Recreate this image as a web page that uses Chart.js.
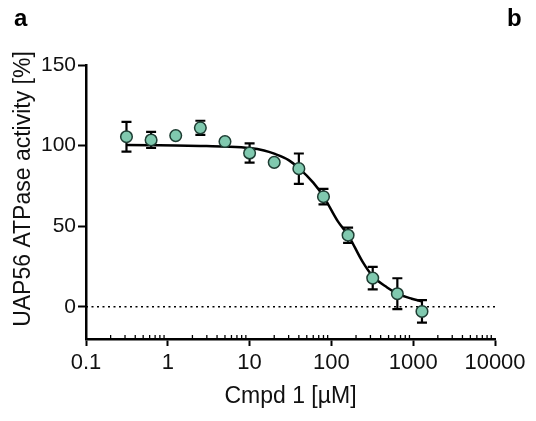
<!DOCTYPE html>
<html>
<head>
<meta charset="utf-8">
<script src="https://cdn.jsdelivr.net/npm/chart.js@4.4.1/dist/chart.umd.min.js"></script>
<style>
  html, body { margin: 0; padding: 0; background: #fff; }
  #wrap { position: relative; width: 536px; height: 421px; }
  .panel { position: absolute; top: 4px; font: bold 24px "Liberation Sans", Arial, sans-serif; color: #000; }
</style>
</head>
<body>
<div id="wrap">
  <canvas id="chart" width="536" height="421"></canvas>
  <div class="panel" style="left:14px;">a</div>
  <div class="panel" style="left:507px;">b</div>
</div>
<script>
  // measured points (concentration in µM, activity in %, error)
  const conc = [0.3125, 0.625, 1.25, 2.5, 5, 10, 20, 40, 80, 160, 320, 640, 1280];
  const activity = [105.5, 103.5, 106.2, 111, 102.5, 95.4, 89.6, 85.7, 68.3, 44.4, 17.8, 8.1, -2.9];
  const errors = [9.2, 5, 0, 4.4, 0, 6, 0, 9.4, 4.8, 4.7, 7, 9.6, 7];

  // fitted curve
  const fitConc = [0.3125, 0.625, 1.25, 2.5, 5, 10, 15, 20, 30, 40, 60, 80, 120, 160, 240, 320, 480, 640, 960, 1280];
  const fitValue = [100.3, 100.2, 100.1, 99.8, 99.4, 98.5, 97, 95, 91, 86, 77, 68.5, 53, 44.5, 28, 19, 12, 8.2, 5, 3.3];

  const xMajor = [0.1, 1, 10, 100, 1000, 10000];
  const xMinorMantissa = [2, 3, 4, 5, 6, 7, 8, 9];
  const yTicks = [0, 50, 100, 150];
  const yTitle = "UAP56 ATPase activity [%]";

  const FONT = "'Liberation Sans', Arial, sans-serif";

  const errorBars = {
    id: "errorBars",
    beforeDatasetDraw(chart, args) {
      if (args.index !== 0) return;
      const ctx = chart.ctx;
      const x = chart.scales.x;
      const y = chart.scales.y;
      ctx.save();
      ctx.strokeStyle = "#000";
      ctx.lineWidth = 2.2;
      conc.forEach((c, i) => {
        const e = errors[i];
        if (!e) return;
        const px = x.getPixelForValue(c);
        const top = y.getPixelForValue(activity[i] + e);
        const bot = y.getPixelForValue(activity[i] - e);
        ctx.beginPath();
        ctx.moveTo(px, top); ctx.lineTo(px, bot);
        ctx.moveTo(px - 5, top); ctx.lineTo(px + 5, top);
        ctx.moveTo(px - 5, bot); ctx.lineTo(px + 5, bot);
        ctx.stroke();
      });
      ctx.restore();
    }
  };

  // short minor ticks on the log axis + the y axis title
  const extras = {
    id: "extras",
    afterDraw(chart) {
      const ctx = chart.ctx;
      const x = chart.scales.x;
      const area = chart.chartArea;
      ctx.save();
      ctx.strokeStyle = "#000";
      ctx.lineWidth = 1.3;
      xMajor.slice(0, -1).forEach((d) => {
        xMinorMantissa.forEach((m) => {
          const px = x.getPixelForValue(d * m);
          ctx.beginPath();
          ctx.moveTo(px, area.bottom);
          ctx.lineTo(px, area.bottom - 4);
          ctx.stroke();
        });
      });
      ctx.translate(24, 189);
      ctx.rotate(-Math.PI / 2);
      ctx.fillStyle = "#111";
      ctx.font = "23px " + FONT;
      ctx.textAlign = "center";
      ctx.textBaseline = "middle";
      ctx.fillText(yTitle, 0, 0);
      ctx.restore();
    }
  };

  new Chart(document.getElementById("chart").getContext("2d"), {
    type: "scatter",
    data: {
      datasets: [
        {
          label: "Cmpd 1",
          data: conc.map((c, i) => ({ x: c, y: activity[i] })),
          pointRadius: 5.8,
          pointBackgroundColor: "#80c9af",
          pointBorderColor: "#1e3d33",
          pointBorderWidth: 1.5,
          showLine: false,
        },
        {
          label: "fit",
          data: fitConc.map((c, i) => ({ x: c, y: fitValue[i] })),
          showLine: true,
          borderColor: "#000",
          borderWidth: 2.5,
          pointRadius: 0,
          cubicInterpolationMode: "monotone",
        },
        {
          label: "zero",
          data: [{ x: xMajor[0], y: 0 }, { x: xMajor[xMajor.length - 1], y: 0 }],
          showLine: true,
          borderColor: "#000",
          borderWidth: 1.5,
          borderDash: [2, 3.5],
          pointRadius: 0,
        },
      ],
    },
    options: {
      responsive: false,
      animation: false,
      layout: { padding: { left: 0, top: 65, right: 41, bottom: 11 } },
      plugins: { legend: { display: false }, tooltip: { enabled: false } },
      scales: {
        x: {
          type: "logarithmic",
          min: 0.1,
          max: 10000,
          afterBuildTicks: (s) => { s.ticks = xMajor.map((v) => ({ value: v })); },
          afterFit: (s) => { s.height = 71; },
          ticks: {
            autoSkip: false,
            maxRotation: 0,
            color: "#111",
            font: { family: FONT, size: 22 },
            padding: 4,
            callback: (v) => String(v),
          },
          grid: { drawOnChartArea: false, tickLength: 7, tickWidth: 2, tickColor: "#000" },
          border: { display: true, color: "#000", width: 2.5 },
          title: { display: true, text: "Cmpd 1 [µM]", color: "#111", font: { family: FONT, size: 23 }, padding: { top: 1, bottom: 0 } },
        },
        y: {
          min: -20,
          max: 150,
          afterBuildTicks: (s) => { s.ticks = yTicks.map((v) => ({ value: v })); },
          afterFit: (s) => { s.width = 86; },
          ticks: { color: "#111", font: { family: FONT, size: 21 }, padding: 2 },
          grid: { drawOnChartArea: false, tickLength: 8, tickWidth: 2, tickColor: "#000" },
          border: { display: true, color: "#000", width: 2.5 },
        },
      },
    },
    plugins: [errorBars, extras],
  });
</script>
</body>
</html>
